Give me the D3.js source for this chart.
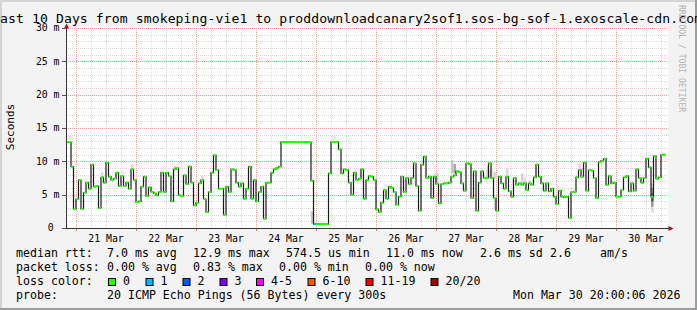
<!DOCTYPE html>
<html>
<head>
<meta charset="utf-8">
<script src="https://cdn.jsdelivr.net/npm/d3@7"></script>
<style>
  body { margin: 0; background: #f3f3f3; }
  svg { display: block; font-family: "DejaVu Sans Mono", monospace; }
</style>
</head>
<body>
<div id="chart"></div>
<script>
const width = 697, height = 310;
const plotLeft = 66, plotRight = 666, plotTop = 28, plotBottom = 228;

// hourly median rtt in ms, starting Mar 20 20:00
const startTime = Date.UTC(2026, 2, 20, 20);
const median = [
  12.9, 12.9, 9.2, 2.85, 4.35, 7.2, 2.85, 5.3, 6.8, 5.9,
  9.5, 6.2, 6.3, 3.0, 7.6, 6.8, 9.8, 7.7, 7.2, 7.4,
  8.3, 6.3, 7.8, 6.3, 6.8, 5.9, 8.8, 7.2, 3.9, 4.0,
  6.2, 7.7, 4.8, 6.1, 5.4, 5.2, 4.9, 5.4, 8.3, 5.4,
  8.3, 7.8, 4.0, 8.8, 9.0, 4.9, 4.8, 7.9, 6.6, 9.2,
  6.8, 3.4, 3.8, 6.7, 7.2, 4.35, 2.4, 5.4, 8.3, 10.9,
  8.7, 5.9, 5.9, 2.0, 6.2, 5.4, 8.8, 8.7, 6.8, 6.2,
  6.7, 4.4, 5.9, 9.2, 4.4, 7.2, 4.0, 5.4, 6.2, 1.4,
  6.8, 6.8, 8.3, 8.8, 9.0, 9.2, 12.9, 12.9, 12.9, 12.9,
  12.9, 12.9, 12.9, 12.9, 12.9, 12.9, 12.9, 12.9, 7.1, 0.57,
  0.57, 0.57, 0.57, 0.57, 0.57, 8.2, 12.9, 12.9, 12.9, 11.8,
  8.2, 8.8, 8.7, 6.8, 5.0, 8.3, 7.2, 7.4, 8.8, 4.4,
  7.2, 7.8, 7.7, 7.2, 2.8, 2.4, 3.8, 5.7, 4.4, 6.2,
  6.0, 5.4, 3.5, 4.7, 7.7, 5.4, 7.5, 6.6, 7.5, 9.7,
  6.3, 2.6, 9.5, 10.7, 7.5, 7.7, 4.5, 7.7, 6.6, 3.7,
  6.6, 6.7, 6.7, 6.8, 7.7, 7.9, 8.5, 8.4, 6.7, 5.6,
  9.7, 9.6, 4.5, 8.5, 2.6, 6.8, 8.5, 7.5, 7.5, 9.7,
  7.5, 4.5, 2.6, 7.7, 6.7, 5.9, 7.7, 5.5, 4.7, 7.5,
  6.5, 6.7, 6.5, 6.7, 5.7, 6.7, 6.5, 7.6, 9.5, 7.7,
  6.7, 5.6, 6.7, 5.5, 5.9, 4.7, 3.6, 5.6, 4.7, 4.6,
  4.7, 1.5, 5.4, 5.4, 7.6, 8.7, 7.7, 9.8, 5.6, 8.7,
  8.6, 7.5, 4.5, 9.9, 10.1, 10.4, 6.5, 7.8, 6.7, 6.8,
  4.7, 4.7, 5.7, 7.6, 7.8, 5.5, 6.7, 5.6, 8.8, 7.5,
  6.8, 7.5, 10.4, 9.1, 4.7, 10.8, 7.4, 7.6, 11.0, 11.0
];
// hours with packet loss (index into lossColors)
const lossHour = [99];
const lossLevel = [1];

// smoke: hour, low ms, high ms, grey shade
const smokeHour  = [14, 26, 43, 54, 98, 147, 148, 154, 155, 168, 169, 170, 171, 171, 176, 182, 183, 185, 205, 218, 234, 234, 234];
const smokeLo    = [7.6, 8.8, 9.0, 7.3, 0.6, 7.2, 6.7, 8.2, 8.2, 7.6, 7.6, 7.6, 7.4, 2.7, 7.6, 6.7, 6.7, 6.7, 8.7, 6.7, 2.4, 3.2, 4.0];
const smokeHi    = [8.4, 9.6, 9.3, 7.8, 2.5, 8.2, 8.2, 10.2, 9.6, 9.2, 8.6, 8.9, 8.4, 4.6, 9.0, 8.2, 7.6, 7.2, 9.7, 7.2, 6.7, 6.0, 5.2];
const smokeShade = ["#dcdcdc", "#dcdcdc", "#dcdcdc", "#dcdcdc", "#c8c8c8", "#dcdcdc", "#d0d0d0", "#c4c4c4", "#a8a8a8", "#dcdcdc", "#dcdcdc", "#e4e4e4", "#d4d4d4", "#d8d8d8", "#dcdcdc", "#d4d4d4", "#dcdcdc", "#dcdcdc", "#dcdcdc", "#dcdcdc", "#d8d8d8", "#9a9a9a", "#555555"];

const yTicks = [0, 5, 10, 15, 20, 25, 30];
const yTickLabels = ["0 ", "5 m", "10 m", "15 m", "20 m", "25 m", "30 m"];
const labelDays = [21, 22, 23, 24, 25, 26, 27, 28, 29, 30];
const xTickLabels = ["21 Mar", "22 Mar", "23 Mar", "24 Mar", "25 Mar", "26 Mar", "27 Mar", "28 Mar", "29 Mar", "30 Mar"];

const lossLabels = ["0", "1", "2", "3", "4-5", "6-10", "11-19", "20/20"];
const lossColors = ["#26ff00", "#00b8ff", "#0059ff", "#7e00ff", "#ff00ff", "#ff5500", "#ff0000", "#a10000"];
const rttStats = ["7.0 ms avg", "12.9 ms max", "574.5 us min", "11.0 ms now", "2.6 ms sd", "2.6", "am/s"];
const lossStats = ["0.00 % avg", "0.83 % max", "0.00 % min", "0.00 % now"];

const hour = 3600e3;
var x = d3.scaleUtc()
    .domain([new Date(startTime), new Date(startTime + median.length * hour)])
    .range([plotLeft, plotRight]);
var y = d3.scaleLinear().domain([0, 30]).range([plotBottom, plotTop]);
const tAt = i => new Date(startTime + i * hour);

var svg = d3.select("#chart").append("svg")
    .attr("width", width)
    .attr("height", height);

// background and 3d frame
svg.append("rect").attr("width", width).attr("height", height).attr("fill", "#f3f3f3");
svg.append("rect").attr("x", 0).attr("y", 0).attr("width", width).attr("height", 2).attr("fill", "#d4d4d4");
svg.append("rect").attr("x", 0).attr("y", 0).attr("width", 2).attr("height", height).attr("fill", "#d4d4d4");
svg.append("rect").attr("x", 0).attr("y", height - 2).attr("width", width).attr("height", 2).attr("fill", "#9c9c9c");
svg.append("rect").attr("x", width - 2).attr("y", 0).attr("width", 2).attr("height", height).attr("fill", "#9c9c9c");

// canvas
svg.append("rect")
    .attr("x", plotLeft).attr("y", plotTop - 1)
    .attr("width", 602).attr("height", plotBottom - plotTop + 1)
    .attr("fill", "#ffffff");

// minor grid
var grid = svg.append("g").attr("stroke-dasharray", "1,1").attr("stroke-width", 1);
grid.selectAll(".hmin")
    .data(y.ticks(30).filter(d => d % 5 != 0))
    .enter().append("line")
    .attr("x1", plotLeft).attr("x2", plotLeft + 602)
    .attr("y1", d => Math.round(y(d)) + 0.5).attr("y2", d => Math.round(y(d)) + 0.5)
    .attr("stroke", "#dadada");
grid.selectAll(".vmin")
    .data(x.ticks(d3.utcHour.every(6)).filter(d => d.getUTCHours() != 0))
    .enter().append("line")
    .attr("x1", d => Math.round(x(d)) + 0.5).attr("x2", d => Math.round(x(d)) + 0.5)
    .attr("y1", plotTop).attr("y2", plotBottom)
    .attr("stroke", "#dadada");
// major grid
grid.selectAll(".hmaj")
    .data(yTicks.filter(d => d > 0))
    .enter().append("line")
    .attr("x1", plotLeft).attr("x2", plotLeft + 602)
    .attr("y1", d => Math.round(y(d)) + 0.5).attr("y2", d => Math.round(y(d)) + 0.5)
    .attr("stroke", "#f2a0a0");
grid.selectAll(".vmaj")
    .data(x.ticks(d3.utcDay.every(1)))
    .enter().append("line")
    .attr("x1", d => Math.round(x(d)) + 0.5).attr("x2", d => Math.round(x(d)) + 0.5)
    .attr("y1", plotTop).attr("y2", plotBottom)
    .attr("stroke", "#f2a0a0");

// smoke
svg.append("g").selectAll("rect")
    .data(smokeHour)
    .enter().append("rect")
    .attr("x", d => x(tAt(d)))
    .attr("width", d => x(tAt(d + 1)) - x(tAt(d)))
    .attr("y", (d, i) => y(smokeHi[i]))
    .attr("height", (d, i) => y(smokeLo[i]) - y(smokeHi[i]))
    .attr("fill", (d, i) => smokeShade[i]);

// median line
var pts = median.map((v, i) => [x(tAt(i)), y(v)]);
pts.push([x(tAt(median.length)), y(median[median.length - 1])]);
svg.append("path")
    .attr("d", d3.line().curve(d3.curveStepAfter)(pts))
    .attr("fill", "none")
    .attr("stroke", "#1a1a1a")
    .attr("stroke-width", 1.2);

// loss coloured median marks
svg.append("g").selectAll("rect")
    .data(median)
    .enter().append("rect")
    .attr("x", (d, i) => x(tAt(i)))
    .attr("width", (d, i) => x(tAt(i + 1)) - x(tAt(i)))
    .attr("y", d => y(d) - 1)
    .attr("height", 2)
    .attr("fill", (d, i) => {
        var k = lossHour.indexOf(i);
        return k < 0 ? lossColors[0] : lossColors[lossLevel[k]];
    });

// axes
var axis = svg.append("g");
axis.append("line").attr("x1", 66.5).attr("x2", 66.5).attr("y1", plotBottom + 1).attr("y2", plotTop - 1)
    .attr("stroke", "#333").attr("stroke-width", 1);
axis.append("line").attr("x1", plotLeft - 1).attr("x2", 670).attr("y1", plotBottom + 0.5).attr("y2", plotBottom + 0.5)
    .attr("stroke", "#333").attr("stroke-width", 1);
axis.append("path").attr("d", "M64,28.5 L69,28.5 L66.5,23.5 Z").attr("fill", "#9a1a1a");
axis.append("path").attr("d", "M668.5,226 L668.5,231 L673.5,228.5 Z").attr("fill", "#9a1a1a");

// y ticks
axis.selectAll(".ytick")
    .data(yTicks)
    .enter().append("line")
    .attr("x1", 62).attr("x2", 66)
    .attr("y1", d => Math.round(y(d)) + 0.5).attr("y2", d => Math.round(y(d)) + 0.5)
    .attr("stroke", "#555");
axis.selectAll(".ylab")
    .data(yTicks)
    .enter().append("text")
    .attr("x", 59.5).attr("y", d => y(d) + 3.4)
    .attr("text-anchor", "end")
    .attr("font-size", "9.8px")
    .style("white-space", "pre")
    .text((d, i) => yTickLabels[i]);

// x ticks
axis.selectAll(".xtick")
    .data(x.ticks(d3.utcDay.every(1)))
    .enter().append("line")
    .attr("x1", d => Math.round(x(d)) + 0.5).attr("x2", d => Math.round(x(d)) + 0.5)
    .attr("y1", plotBottom + 1).attr("y2", plotBottom + 3)
    .attr("stroke", "#e07070");
axis.selectAll(".xlab")
    .data(labelDays)
    .enter().append("text")
    .attr("x", d => x(new Date(Date.UTC(2026, 2, d, 12))))
    .attr("y", 241.5)
    .attr("text-anchor", "middle")
    .attr("font-size", "9.8px")
    .text((d, i) => xTickLabels[i]);

// title (wider than the image, cut at both edges), y label, watermark
svg.append("text")
    .attr("x", -7.9).attr("y", 23)
    .attr("font-size", "13.1px")
    .attr("textLength", 710)
    .attr("lengthAdjust", "spacing")
    .text("Last 10 Days from smokeping-vie1 to proddownloadcanary2sof1.sos-bg-sof-1.exoscale-cdn.com");
svg.append("text")
    .attr("transform", "translate(14,127) rotate(-90)")
    .attr("text-anchor", "middle")
    .attr("font-size", "11px")
    .text("Seconds");
svg.append("text")
    .attr("transform", "translate(679,5) rotate(90)")
    .attr("font-size", "8.1px")
    .attr("fill", "#b4b4b4")
    .text("RRDTOOL / TOBI OETIKER");

// legend
var leg = svg.append("g").attr("font-size", "11.6px").style("white-space", "pre");
var rttX = [107, 193, 286, 386, 480, 550, 600];
var lossX = [107, 193, 279, 365];
leg.append("text").attr("x", 16).attr("y", 257).text("median rtt:");
leg.selectAll(".rtt").data(rttStats).enter().append("text")
    .attr("x", (d, i) => rttX[i]).attr("y", 257).text(d => d);
leg.append("text").attr("x", 16).attr("y", 271).text("packet loss:");
leg.selectAll(".loss").data(lossStats).enter().append("text")
    .attr("x", (d, i) => lossX[i]).attr("y", 271).text(d => d);
leg.append("text").attr("x", 16).attr("y", 285).text("loss color:");
var boxX = [108, 145.5, 182.5, 219.5, 256, 307.5, 365.5, 430.5];
leg.selectAll(".lbox").data(lossColors).enter().append("rect")
    .attr("x", (d, i) => boxX[i] + 0.5).attr("y", 278.5)
    .attr("width", 7).attr("height", 7)
    .attr("fill", d => d).attr("stroke", "#000").attr("stroke-width", 1);
leg.selectAll(".ltxt").data(lossLabels).enter().append("text")
    .attr("x", (d, i) => boxX[i] + 15).attr("y", 285).text(d => d);
leg.append("text").attr("x", 16).attr("y", 299).text("probe:");
leg.append("text").attr("x", 107).attr("y", 299).text("20 ICMP Echo Pings (56 Bytes) every 300s");
leg.append("text").attr("x", 680.5).attr("y", 299).attr("text-anchor", "end").text("Mon Mar 30 20:00:06 2026");
</script>
</body>
</html>
